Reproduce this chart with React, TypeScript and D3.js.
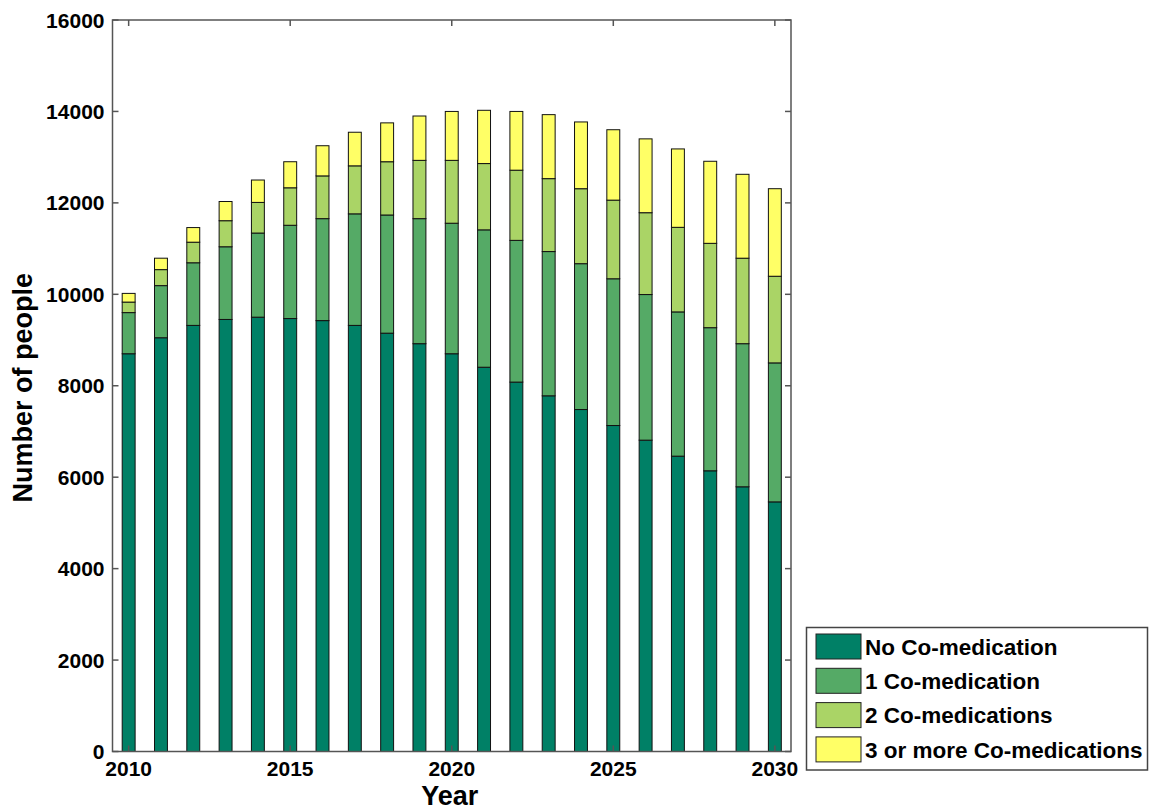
import React, { useEffect, useRef } from "react";
import * as d3 from "d3";

const years = d3.range(2010, 2031);
const noCoMed = [8700, 9050, 9320, 9450, 9500, 9470, 9425, 9320, 9150, 8920, 8700, 8405, 8080, 7780, 7480, 7130, 6810, 6460, 6140, 5790, 5460];
const oneCoMed = [900, 1140, 1370, 1590, 1840, 2040, 2230, 2440, 2585, 2735, 2855, 3005, 3100, 3155, 3190, 3210, 3185, 3155, 3130, 3130, 3040];
const twoCoMed = [230, 350, 450, 570, 670, 820, 935, 1050, 1165, 1275, 1375, 1450, 1535, 1595, 1640, 1720, 1790, 1850, 1845, 1870, 1895];
const threeCoMed = [190, 250, 320, 420, 490, 570, 660, 735, 850, 970, 1070, 1165, 1285, 1400, 1460, 1540, 1615, 1715, 1795, 1835, 1915];
const seriesNames = ["No Co-medication", "1 Co-medication", "2 Co-medications", "3 or more Co-medications"];
const seriesColors = ["#008066", "#55AA66", "#AAD466", "#FFFF66"];
const xTicks = [2010, 2015, 2020, 2025, 2030];
const yTicks = [0, 2000, 4000, 6000, 8000, 10000, 12000, 14000, 16000];

const W = 1150, H = 812;
const L = 112.5, R = 791, T = 20, B = 751.5;
const FONT = "'Liberation Sans', Arial, sans-serif";

export default function App() {
  const ref = useRef<SVGSVGElement | null>(null);
  useEffect(() => {
    const svg = d3.select(ref.current);
    svg.selectAll("*").remove();
    const x = d3.scaleLinear().domain([2009.5, 2030.5]).range([L, R]);
    const y = d3.scaleLinear().domain([0, 16000]).range([B, T]);
    const series = [noCoMed, oneCoMed, twoCoMed, threeCoMed];
    const table = years.map((yr, i) => {
      const o: any = { year: yr };
      series.forEach((s, k) => (o["s" + k] = s[i]));
      return o;
    });
    const stack = d3.stack<any>().keys(["s0", "s1", "s2", "s3"])(table);
    const bw = (x(2011) - x(2010)) * 0.4;

    const g = svg.append("g");
    stack.forEach((layer, k) => {
      g.selectAll(null)
        .data(layer)
        .enter()
        .append("rect")
        .attr("x", (d: any) => x(d.data.year) - bw / 2)
        .attr("width", bw)
        .attr("y", (d: any) => y(d[1]))
        .attr("height", (d: any) => y(d[0]) - y(d[1]))
        .attr("fill", seriesColors[k])
        .attr("stroke", "#111")
        .attr("stroke-width", 1);
    });

    const axisColor = "#555";
    svg.append("rect").attr("x", L).attr("y", T).attr("width", R - L).attr("height", B - T)
      .attr("fill", "none").attr("stroke", axisColor).attr("stroke-width", 1.5);

    const tl = 6;
    yTicks.forEach((v) => {
      const yy = y(v);
      svg.append("line").attr("x1", L).attr("x2", L + tl).attr("y1", yy).attr("y2", yy).attr("stroke", axisColor).attr("stroke-width", 1.5);
      svg.append("line").attr("x1", R).attr("x2", R - tl).attr("y1", yy).attr("y2", yy).attr("stroke", axisColor).attr("stroke-width", 1.5);
      svg.append("text").attr("x", L - 8).attr("y", yy).attr("dy", "0.36em")
        .attr("text-anchor", "end").attr("font-family", FONT).attr("font-weight", "bold")
        .attr("font-size", 21).attr("fill", "#000").text(String(v));
    });
    xTicks.forEach((v) => {
      const xx = x(v);
      svg.append("line").attr("x1", xx).attr("x2", xx).attr("y1", B).attr("y2", B - tl).attr("stroke", axisColor).attr("stroke-width", 1.5);
      svg.append("line").attr("x1", xx).attr("x2", xx).attr("y1", T).attr("y2", T + tl).attr("stroke", axisColor).attr("stroke-width", 1.5);
      svg.append("text").attr("x", xx).attr("y", 776)
        .attr("text-anchor", "middle").attr("font-family", FONT).attr("font-weight", "bold")
        .attr("font-size", 21).attr("fill", "#000").text(String(v));
    });

    svg.append("text").attr("x", (L + R) / 2 - 2).attr("y", 805).attr("text-anchor", "middle")
      .attr("font-family", FONT).attr("font-weight", "bold").attr("font-size", 27).text("Year");
    svg.append("text").attr("transform", `translate(32, ${(T + B) / 2 + 2}) rotate(-90)`)
      .attr("text-anchor", "middle").attr("font-family", FONT).attr("font-weight", "bold")
      .attr("font-size", 27).text("Number of people");

    const lg = svg.append("g");
    lg.append("rect").attr("x", 806.5).attr("y", 627.5).attr("width", 341).attr("height", 142.5)
      .attr("fill", "#fff").attr("stroke", "#444").attr("stroke-width", 1.5);
    seriesNames.forEach((name, k) => {
      const ry = 634 + k * 34.3;
      lg.append("rect").attr("x", 816).attr("y", ry).attr("width", 45).attr("height", 25)
        .attr("fill", seriesColors[k]).attr("stroke", "#222").attr("stroke-width", 1);
      lg.append("text").attr("x", 865).attr("y", ry + 12.5).attr("dy", "0.36em")
        .attr("font-family", FONT).attr("font-weight", "bold").attr("font-size", 22.5).text(name);
    });
  }, []);
  return (
    <svg ref={ref} width={W} height={H} style={{ position: "absolute", left: 0, top: 0, background: "#fff" }} />
  );
}
